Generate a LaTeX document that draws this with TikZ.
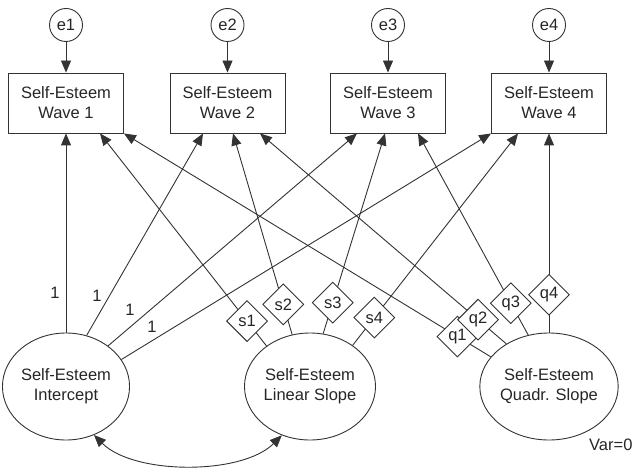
\documentclass[tikz,border=0pt]{standalone}
\usepackage{fontspec}
\setmainfont{Liberation Sans}
\usetikzlibrary{shapes.geometric,arrows.meta}
\begin{document}
\begin{tikzpicture}[x=1pt,y=-1pt,
  every node/.style={font=\fontsize{16.5}{20}\selectfont, text=black!85},
  ln/.style={draw=black!80, line width=0.9pt},
  arr/.style={ln, -{Triangle[length=12pt,width=10pt]}},
  errc/.style={circle, draw=black!80, line width=0.9pt, minimum size=33pt, inner sep=0pt},
  wbox/.style={rectangle, draw=black!80, line width=0.9pt, minimum width=115pt, minimum height=60pt, align=center, inner sep=0pt},
  lat/.style={ellipse, draw=black!80, line width=0.9pt, minimum width=120pt, minimum height=107pt, align=center, inner sep=0pt},
  par/.style={diamond, draw=black!80, line width=0.9pt, fill=white, minimum width=41pt, minimum height=41pt, inner sep=0pt, aspect=1},
  lbl/.style={inner sep=0pt}
]
\useasboundingbox (0,0) rectangle (636,473);
% error terms
\node[errc] (e1) at (66,25) {e1};
\node[errc] (e2) at (227.5,25) {e2};
\node[errc] (e3) at (388,25) {e3};
\node[errc] (e4) at (549,25) {e4};
% observed
\node[wbox] (w1) at (66,103) {Self-Esteem\\Wave 1};
\node[wbox] (w2) at (227.5,103) {Self-Esteem\\Wave 2};
\node[wbox] (w3) at (388,103) {Self-Esteem\\Wave 3};
\node[wbox] (w4) at (549,103) {Self-Esteem\\Wave 4};
% latent
\node[lat] (int) at (66,386.5) {Self-Esteem\\Intercept};
\node[lat] (lin) at (310,386.5) {Self-Esteem\\Linear Slope};
\node[lat] (quad) at (549,386.5) {Self-Esteem\\Quadr. Slope};
% error arrows
\draw[arr] (e1) -- (w1);
\draw[arr] (e2) -- (w2);
\draw[arr] (e3) -- (w3);
\draw[arr] (e4) -- (w4);
% intercept loadings
\draw[arr] (int.90) -- (w1.south);
\draw[arr] (int.68) -- ([xshift=-24.5pt]w2.south);
\draw[arr] (int.44) -- ([xshift=-31pt]w3.south);
\draw[arr] (int.26) -- (w4.south west);
\node[lbl] (l1) at (55,293) {1};
\node[lbl] (l2) at (97,296) {1};
\node[lbl] (l3) at (130,310) {1};
\node[lbl] (l4) at (152,327) {1};
% linear slope loadings
\draw[arr] (lin.137) -- node[par,pos=0.117] (s1) {s1} ([xshift=34pt]w1.south);
\draw[arr] (lin.109) -- node[par,pos=0.15] (s2) {s2} ([xshift=5.5pt]w2.south);
\draw[arr] (lin.76) -- node[par,pos=0.155] (s3) {s3} ([xshift=-3pt]w3.south);
\draw[arr] (lin.44) -- node[par,pos=0.131] (s4) {s4} ([xshift=-31pt]w4.south);
% quadratic slope loadings
\draw[arr] (quad.153) -- node[par,pos=0.091] (q1) {q1} (w1.south east);
\draw[arr] (quad.135) -- node[par,pos=0.115] (q2) {q2} ([xshift=32.5pt]w2.south);
\draw[arr] (quad.112) -- node[par,pos=0.158] (q3) {q3} ([xshift=30pt]w3.south);
\draw[arr] (quad.90) -- node[par,pos=0.19] (q4) {q4} (w4.south);
% covariance
\draw[ln, {Triangle[length=12pt,width=10pt]}-{Triangle[length=12pt,width=10pt]}]
  (int.300) .. controls +(40,40) and +(-40,40) .. (lin.240);
% variance note
\node[anchor=base west, inner sep=0pt] (var) at (589,450) {Var=0};
\end{tikzpicture}
\end{document}
